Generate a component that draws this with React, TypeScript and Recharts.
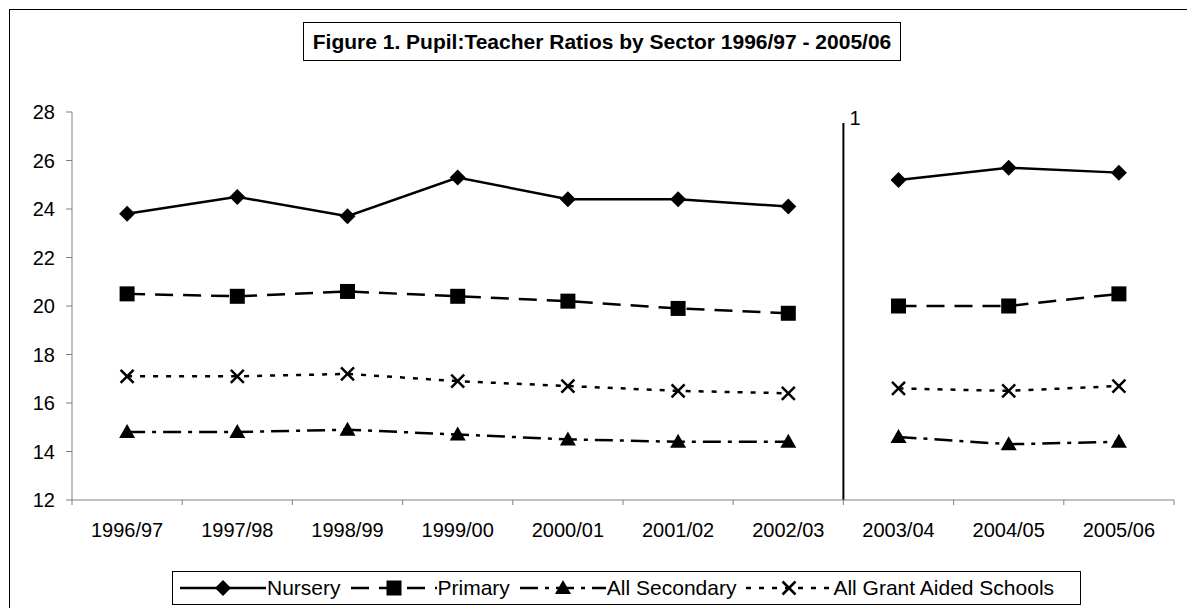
import { LineChart, Line, XAxis, YAxis, ReferenceLine } from 'recharts'

const categories = ['1996/97', '1997/98', '1998/99', '1999/00', '2000/01', '2001/02', '2002/03', '2003/04', '2004/05', '2005/06']
const nursery = [23.8, 24.5, 23.7, 25.3, 24.4, 24.4, 24.1, 25.2, 25.7, 25.5]
const primary = [20.5, 20.4, 20.6, 20.4, 20.2, 19.9, 19.7, 20.0, 20.0, 20.5]
const secondary = [14.8, 14.8, 14.9, 14.7, 14.5, 14.4, 14.4, 14.6, 14.3, 14.4]
const grantAided = [17.1, 17.1, 17.2, 16.9, 16.7, 16.5, 16.4, 16.6, 16.5, 16.7]
const yTicks = [12, 14, 16, 18, 20, 22, 24, 26, 28]
// series break (footnote 1) falls before 2003/04
const BREAK_INDEX = 7
const BREAK_LABEL = '1'

const FONT = '"Liberation Sans", Arial, sans-serif'
const AXIS_GREY = '#808080'

type MarkerType = 'diamond' | 'square' | 'triangle' | 'cross'

interface SeriesDef {
  key: string
  name: string
  values: number[]
  dash?: string
  marker: MarkerType
}

const SERIES: SeriesDef[] = [
  { key: 'nursery', name: 'Nursery', values: nursery, marker: 'diamond' },
  { key: 'primary', name: 'Primary', values: primary, dash: '18 10', marker: 'square' },
  { key: 'secondary', name: 'All Secondary', values: secondary, dash: '18 7 4 7', marker: 'triangle' },
  { key: 'grant', name: 'All Grant Aided Schools', values: grantAided, dash: '5 8', marker: 'cross' },
]

// two keys per series so the line is broken at the discontinuity
const chartData = categories.map((year, i) => {
  const row: Record<string, string | number | null> = { year }
  for (const s of SERIES) {
    row[`${s.key}A`] = i < BREAK_INDEX ? s.values[i] : null
    row[`${s.key}B`] = i >= BREAK_INDEX ? s.values[i] : null
  }
  return row
})

function Marker({ type, cx, cy }: { type: MarkerType; cx: number; cy: number }) {
  switch (type) {
    case 'diamond':
      return <polygon points={`${cx},${cy - 8} ${cx + 8},${cy} ${cx},${cy + 8} ${cx - 8},${cy}`} fill="#000" />
    case 'square':
      return <rect x={cx - 7.5} y={cy - 7.5} width={15} height={15} fill="#000" />
    case 'triangle':
      return <polygon points={`${cx},${cy - 8} ${cx + 8},${cy + 6} ${cx - 8},${cy + 6}`} fill="#000" />
    default:
      return (
        <g stroke="#000" strokeWidth={2.5}>
          <line x1={cx - 6.5} y1={cy - 6.5} x2={cx + 6.5} y2={cy + 6.5} />
          <line x1={cx - 6.5} y1={cy + 6.5} x2={cx + 6.5} y2={cy - 6.5} />
        </g>
      )
  }
}

const makeDot = (type: MarkerType) => (props: any) => {
  const { cx, cy, value, index, dataKey } = props
  if (value == null || cy == null || cx == null) return <g key={`${dataKey}-${index}`} />
  return (
    <g key={`${dataKey}-${index}`}>
      <Marker type={type} cx={cx} cy={cy} />
    </g>
  )
}

// category label in the middle, tick marks on the band edges (Excel "between categories")
const renderXTick = (props: any) => {
  const { x, y, payload, index } = props
  const half = payload?.offset ?? 0
  return (
    <g>
      <line x1={x - half} y1={y} x2={x - half} y2={y + 5} stroke={AXIS_GREY} />
      {index === categories.length - 1 && <line x1={x + half} y1={y} x2={x + half} y2={y + 5} stroke={AXIS_GREY} />}
      <text x={x} y={y + 23} dy="0.71em" textAnchor="middle" fontSize={20} fill="#000" fontFamily={FONT}>
        {payload.value}
      </text>
    </g>
  )
}

function LegendGlyph({ s }: { s: SeriesDef }) {
  return (
    <svg width={86} height={20} style={{ display: 'block' }}>
      <line x1={0} y1={10} x2={86} y2={10} stroke="#000" strokeWidth={2.5} strokeDasharray={s.dash} />
      <Marker type={s.marker} cx={43} cy={10} />
    </svg>
  )
}

const renderBreakLabel = (props: any) => {
  const vb = props.viewBox || {}
  return (
    <text x={(vb.x ?? 0) + 6} y={(vb.y ?? 0) + 2} fontSize={20} fill="#000" fontFamily={FONT}>
      {BREAK_LABEL}
    </text>
  )
}

export default function App() {
  return (
    <div style={{ position: 'relative', width: 1187, height: 608, overflow: 'hidden', fontFamily: FONT, background: '#fff' }}>
      <style>{'body{margin:0;overflow:hidden}'}</style>
      <div style={{ position: 'absolute', left: 9, top: 9, width: 1200, height: 620, border: '1px solid #000' }} />
      <div
        style={{
          position: 'absolute',
          left: 303,
          top: 22,
          width: 596,
          height: 37,
          border: '1px solid #000',
          display: 'flex',
          alignItems: 'center',
          justifyContent: 'center',
          fontWeight: 'bold',
          fontSize: 21,
          whiteSpace: 'nowrap',
        }}
      >
        Figure 1. Pupil:Teacher Ratios by Sector 1996/97 - 2005/06
      </div>

      <div style={{ position: 'absolute', left: 0, top: 0 }}>
        <LineChart width={1187} height={608} data={chartData} margin={{ top: 112, right: 13, left: 12, bottom: 68 }}>
          <XAxis
            dataKey="year"
            scale="band"
            interval={0}
            axisLine={{ stroke: AXIS_GREY }}
            tickLine={false}
            tickSize={0}
            tickMargin={0}
            tick={renderXTick}
            height={40}
          />
          <YAxis
            domain={[12, 28]}
            ticks={yTicks}
            interval={0}
            width={60}
            tickSize={6}
            tickMargin={11}
            tick={{ fill: '#000', fontSize: 20 }}
            tickLine={{ stroke: AXIS_GREY }}
            axisLine={{ stroke: AXIS_GREY }}
          />
          <ReferenceLine
            segment={[
              { x: categories[BREAK_INDEX], y: 12 },
              { x: categories[BREAK_INDEX], y: 27.55 },
            ]}
            position="start"
            stroke="#000"
            strokeWidth={2}
            ifOverflow="visible"
            label={renderBreakLabel}
          />
          {SERIES.flatMap((s) =>
            ['A', 'B'].map((part) => (
              <Line
                key={`${s.key}${part}`}
                dataKey={`${s.key}${part}`}
                name={s.name}
                stroke="#000"
                strokeWidth={2.5}
                strokeDasharray={s.dash}
                dot={makeDot(s.marker)}
                activeDot={false}
                isAnimationActive={false}
                legendType="none"
              />
            ))
          )}
        </LineChart>
      </div>

      <div
        style={{
          position: 'absolute',
          left: 172,
          top: 571,
          width: 900,
          height: 32,
          border: '1px solid #000',
          display: 'flex',
          alignItems: 'center',
          paddingLeft: 7,
          boxSizing: 'content-box',
          fontSize: 21,
          whiteSpace: 'nowrap',
        }}
      >
        {SERIES.map((s) => (
          <div key={s.key} style={{ display: 'flex', alignItems: 'center', marginRight: 10 }}>
            <LegendGlyph s={s} />
            <span style={{ marginLeft: 1 }}>{s.name}</span>
          </div>
        ))}
      </div>
    </div>
  )
}
